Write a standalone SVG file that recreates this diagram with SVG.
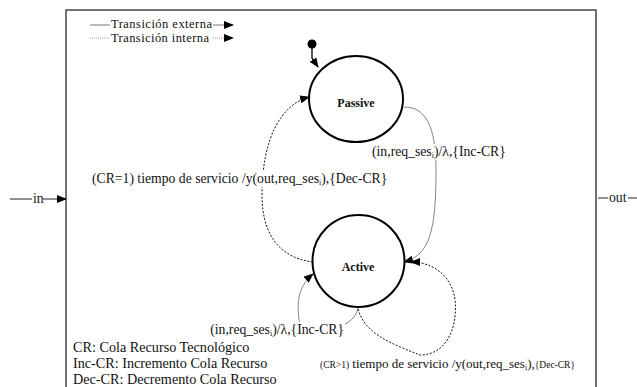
<svg xmlns="http://www.w3.org/2000/svg" width="637" height="387" viewBox="0 0 637 387">
<style>
text{font-family:"Liberation Serif","Times New Roman",serif;font-size:13.7px;fill:#111}
.st{font-weight:bold;font-size:12px;text-anchor:middle}
.sm{font-size:9.5px}
.sub{font-size:8px}
.lg{font-size:12.5px}
.nt{font-size:14.2px}
.ext{fill:none;stroke:#777;stroke-width:0.9}
.int{fill:none;stroke:#111;stroke-width:1;stroke-dasharray:2 1.6}
.state{fill:#fff;stroke:#000;stroke-width:2}
.bg{fill:#fff}
</style>
<defs>
<marker id="ah" markerWidth="10" markerHeight="8" refX="9" refY="4" orient="auto" markerUnits="userSpaceOnUse">
<path d="M0,0 L10,4 L0,8 Z" fill="#000"/>
</marker>
</defs>
<rect width="637" height="387" fill="#fff"/>
<g id="frame">
<path d="M66 387 V10 H596 V387" fill="none" stroke="#444" stroke-width="1.5"/>
</g>
<g id="legend">
<line x1="90" y1="25" x2="110" y2="25" stroke="#555" stroke-width="0.8"/>
<text class="lg" x="111" y="28" textLength="101" lengthAdjust="spacing">Transición externa</text>
<line x1="213" y1="25" x2="233" y2="25" stroke="#555" stroke-width="0.8" marker-end="url(#ah)"/>
<line x1="90" y1="38" x2="110" y2="38" stroke="#888" stroke-width="0.8" stroke-dasharray="1 1"/>
<text class="lg" x="111" y="42" textLength="98" lengthAdjust="spacing">Transición interna</text>
<line x1="213" y1="38" x2="233" y2="38" stroke="#888" stroke-width="0.8" stroke-dasharray="1 1" marker-end="url(#ah)"/>
</g>
<g id="ports">
<line x1="10" y1="199" x2="32" y2="199" stroke="#222" stroke-width="1"/>
<text x="33" y="203">in</text>
<line x1="43" y1="199" x2="66" y2="199" stroke="#222" stroke-width="1" marker-end="url(#ah)"/>
<line x1="598" y1="198" x2="608" y2="198" stroke="#222" stroke-width="1"/>
<text x="609" y="202">out</text>
<line x1="628" y1="198" x2="637" y2="198" stroke="#222" stroke-width="1"/>
</g>
<g id="connectors">
<path id="init" d="M312 45 V58 L318 67" fill="none" stroke="#000" stroke-width="1.3" marker-end="url(#ah)"/>
<circle cx="312" cy="44" r="4.5" fill="#000"/>
<path class="ext" d="M404 107 C425 107 436 125 436 170 C436 230 430 255 404 262" marker-end="url(#ah)"/>
<path class="int" d="M313 262 C280 258 262 235 262 195 C262 140 280 105 309 97" marker-end="url(#ah)"/>
<path class="ext" d="M358 308 C355 325 330 335 300 325 C295 300 300 285 313 274" marker-end="url(#ah)"/>
<path class="int" d="M358 309 C365 335 395 345 420 355 C445 355 458 330 455 300 C452 275 432 262 411 262" marker-end="url(#ah)"/>
</g>
<g id="labels">
<rect class="bg" x="371" y="144" width="136" height="16"/>
<text x="372" y="156">(in,req_ses<tspan class="sub" dy="2">i</tspan><tspan dy="-2">)/λ,{Inc-CR}</tspan></text>
<rect class="bg" x="90" y="171" width="300" height="16"/>
<text x="92" y="183">(CR=1) tiempo de servicio /y(out,req_ses<tspan class="sub" dy="2">i</tspan><tspan dy="-2">),{Dec-CR}</tspan></text>
<rect class="bg" x="202" y="322" width="143" height="15"/>
<text x="344" y="334" text-anchor="end">(in,req_ses<tspan class="sub" dy="2">i</tspan><tspan dy="-2">)/λ,{Inc-CR}</tspan></text>
<rect class="bg" x="318" y="356" width="258" height="15"/>
<text x="320" y="368" style="font-size:13px"><tspan class="sm">(CR&gt;1)</tspan> tiempo de servicio /y(out,req_ses<tspan class="sub" dy="2">i</tspan><tspan dy="-2">),</tspan><tspan class="sm">{Dec-CR}</tspan></text>
</g>
<g id="passive">
<ellipse class="state" cx="356" cy="99" rx="47" ry="43"/>
<text class="st" x="356" y="107">Passive</text>
</g>
<g id="active">
<circle class="state" cx="358.5" cy="261" r="46"/>
<text class="st" x="358" y="271">Active</text>
</g>
<g id="notes">
<text class="nt" x="73" y="352">CR: Cola Recurso Tecnológico</text>
<text class="nt" x="73" y="368">Inc-CR: Incremento Cola Recurso</text>
<text class="nt" x="73" y="384">Dec-CR: Decremento Cola Recurso</text>
</g>
</svg>
